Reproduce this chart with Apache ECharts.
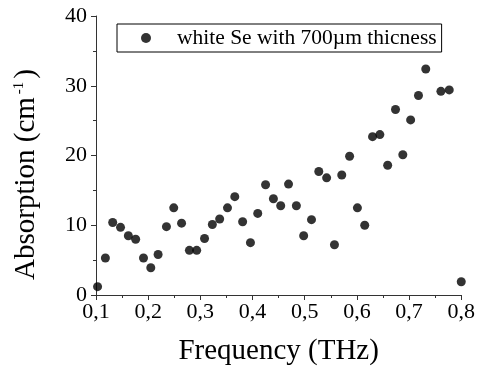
<!DOCTYPE html>
<html><head><meta charset="utf-8">
<script src="https://cdn.jsdelivr.net/npm/echarts@6/dist/echarts.min.js"></script>
<style>html,body{margin:0;padding:0;background:#fff}#c{width:478px;height:378px}</style>
</head><body><div id="c"></div>
<script>
const seriesName = 'white Se with 700µm thicness';
const freq = [0.103,0.118,0.132,0.147,0.162,0.176,0.191,0.205,0.219,0.235,0.249,0.264,0.279,0.293,0.308,0.323,0.337,0.352,0.366,0.381,0.396,0.410,0.425,0.440,0.454,0.469,0.484,0.498,0.513,0.527,0.542,0.557,0.571,0.586,0.601,0.615,0.630,0.644,0.659,0.674,0.688,0.703,0.718,0.732,0.761,0.777,0.800];
const absorption = [1.2,5.3,10.4,9.7,8.5,8.0,5.3,3.9,5.8,9.8,12.5,10.3,6.4,6.4,8.1,10.1,10.9,12.5,14.1,10.5,7.5,11.7,15.8,13.8,12.8,15.9,12.8,8.5,10.8,17.7,16.8,7.2,17.2,19.9,12.5,10.0,22.7,23.0,18.6,26.6,20.1,25.1,28.6,32.4,29.2,29.4,1.9];
const xTicks = {min:0.1, max:0.8, interval:0.1};
const yTicks = {min:0, max:40, interval:10};

const font = '"Liberation Serif","Times New Roman",serif';
const axisCol = '#333';
const chart = echarts.init(document.getElementById('c'));
chart.setOption({
  animation:false,
  backgroundColor:'#fff',
  grid:{left:96, right:15, top:16, bottom:83},
  legend:{
    data:[{name:seriesName, icon:'circle'}],
    left:117, top:24,
    padding:[3,5,3,24],
    borderColor:'#000', borderWidth:1,
    itemWidth:10, itemHeight:10,
    textStyle:{fontFamily:font, fontSize:21.5, color:'#000', padding:[0,0,0,21]}
  },
  xAxis:{
    type:'value', min:xTicks.min, max:xTicks.max, interval:xTicks.interval,
    name:'Frequency (THz)', nameLocation:'middle', nameGap:42,
    nameTextStyle:{fontFamily:font, fontSize:29, color:'#000'},
    axisLine:{show:true, onZero:false, lineStyle:{color:axisCol, width:1}},
    axisTick:{show:true, length:5, inside:false, lineStyle:{color:axisCol}},
    minorTick:{show:true, splitNumber:2, length:3, lineStyle:{color:axisCol}},
    splitLine:{show:false},
    axisLabel:{fontFamily:font, fontSize:22, color:'#000', margin:6,
      formatter:v=>v.toFixed(1).replace('.',',')}
  },
  yAxis:{
    type:'value', min:yTicks.min, max:yTicks.max, interval:yTicks.interval,
    name:'{a|Absorption (cm}{s|-1}{a|)}', nameLocation:'middle', nameGap:55, nameRotate:90,
    nameTextStyle:{padding:[0,38,0,0], rich:{
      a:{fontFamily:font, fontSize:29, color:'#000'},
      s:{fontFamily:font, fontSize:15, color:'#000', verticalAlign:'top', padding:[0,3,12,3]}
    }},
    axisLine:{show:true, onZero:false, lineStyle:{color:axisCol, width:1}},
    axisTick:{show:true, length:5, inside:false, lineStyle:{color:axisCol}},
    minorTick:{show:true, splitNumber:2, length:3, lineStyle:{color:axisCol}},
    splitLine:{show:false},
    axisLabel:{fontFamily:font, fontSize:22, color:'#000', margin:9}
  },
  series:[{
    name:seriesName, type:'scatter', symbol:'circle', symbolSize:9,
    itemStyle:{color:'#000'},
    clip:false,
    data:freq.map((f,i)=>[f,absorption[i]])
  }]
});
</script></body></html>
